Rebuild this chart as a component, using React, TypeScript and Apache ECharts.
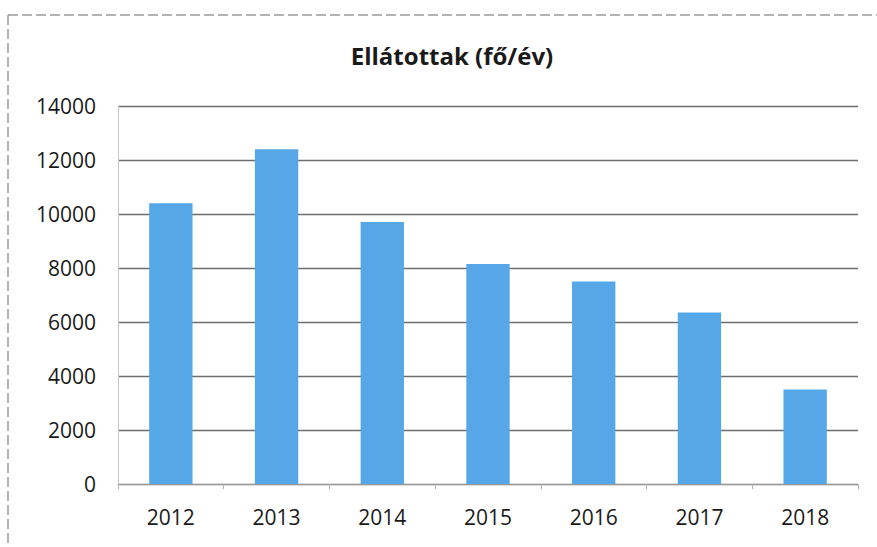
import React, { useEffect, useRef } from "react";
import * as echarts from "echarts";

const title = "Ellátottak (fő/év)";
const years = ["2012", "2013", "2014", "2015", "2016", "2017", "2018"];
const values = [10400, 12400, 9700, 8150, 7500, 6350, 3500];
const yMin = 0;
const yMax = 14000;
const yStep = 2000;

export default function App() {
  const ref = useRef<HTMLDivElement>(null);
  useEffect(() => {
    if (!ref.current) return;
    const chart = echarts.init(ref.current, undefined, { renderer: "svg" });
    chart.setOption({
      animation: false,
      backgroundColor: "#ffffff",
      title: {
        text: title,
        left: 447,
        textAlign: "center",
        top: 38,
        textStyle: { fontFamily: "Open Sans", fontWeight: "bold", fontSize: 24, color: "#1a1a1a" },
      },
      graphic: [
        { type: "line", shape: { x1: 8, y1: 15, x2: 877, y2: 15 }, style: { stroke: "#9a9a9a", lineWidth: 1.5, lineDash: [10, 4] } },
        { type: "line", shape: { x1: 8, y1: 15, x2: 8, y2: 547 }, style: { stroke: "#9a9a9a", lineWidth: 1.5, lineDash: [10, 4] } },
      ],
      grid: { left: 118, right: 19, top: 106, bottom: 63 },
      xAxis: {
        type: "category",
        data: years,
        axisLine: { show: true, lineStyle: { color: "#9a9a9a", width: 1 } },
        axisTick: { show: true, length: 5, lineStyle: { color: "#b0b0b0" } },
        axisLabel: { fontFamily: "Open Sans", fontSize: 21, color: "#1a1a1a", margin: 22 },
      },
      yAxis: {
        type: "value",
        min: yMin,
        max: yMax,
        interval: yStep,
        axisLine: { show: true, lineStyle: { color: "#c8c8c8" } },
        axisTick: { show: false },
        splitLine: { show: true, lineStyle: { color: "#6e6e6e", width: 1.3 } },
        axisLabel: {
          fontFamily: "Open Sans",
          fontSize: 21,
          color: "#1a1a1a",
          margin: 22,
          formatter: (v: number) => String(v),
        },
      },
      series: [
        {
          type: "bar",
          data: values,
          barWidth: "41%",
          itemStyle: { color: "#56a7e7" },
        },
      ],
    });
    return () => chart.dispose();
  }, []);
  return <div ref={ref} style={{ position: "fixed", left: 0, top: 0, width: 877, height: 547 }} />;
}
